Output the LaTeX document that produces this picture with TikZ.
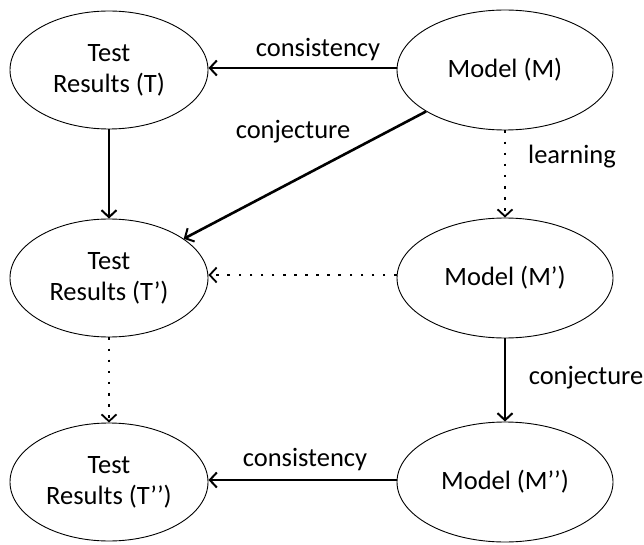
\documentclass[tikz,border=0pt]{standalone}
\usepackage{fontspec}
\setmainfont{Carlito}
\usetikzlibrary{shapes.geometric,arrows.meta}
\begin{document}
\begin{tikzpicture}[x=1pt,y=-1pt,
  every node/.style={font=\fontsize{26.5}{31}\selectfont},
  ell/.style={draw,ellipse,line width=0.9pt,inner sep=0pt,align=center},
  tnode/.style={ell,minimum width=198pt,minimum height=118pt},
  mnode/.style={ell,minimum width=216pt,minimum height=120pt},
  solidarr/.style={line width=2.6pt,-{Straight Barb[length=7pt,width=15pt,line width=2pt]}},
  dotarr/.style={line width=2.6pt,dash pattern=on 2.6pt off 8.5pt,-{Straight Barb[length=7pt,width=15pt,line width=1.8pt]}},
  lbl/.style={inner sep=1pt}
]
\useasboundingbox (0,0) rectangle (644,545);
\node[tnode] (T)  at (109,70)  {Test\\Results (T)};
\node[mnode] (M)  at (505,70)  {Model (M)};
\node[tnode] (T1) at (109,278) {Test\\Results (T’)};
\node[mnode] (M1) at (505,278) {Model (M’)};
\node[tnode] (T2) at (109,482) {Test\\Results (T’’)};
\node[mnode] (M2) at (505,482) {Model (M’’)};

\draw[solidarr] (M.west |- 0,68) -- (T.east |- 0,68);
\node[lbl] (l1) at (318,50) {consistency};
\draw[solidarr] (T) -- (T1);
\draw[solidarr] (M) -- (T1);
\node[lbl] (l2) at (293,132) {conjecture};
\draw[dotarr] (M) -- (M1);
\node[lbl] (l3) at (572,157) {learning};
\draw[dotarr] (M1.west |- 0,275) -- (T1.east |- 0,275);
\draw[solidarr] (M1) -- (M2);
\node[lbl] (l4) at (586,378) {conjecture};
\draw[dotarr] (T1) -- (T2);
\draw[solidarr] (M2.west |- 0,480) -- (T2.east |- 0,480);
\node[lbl] (l5) at (305,460) {consistency};
\end{tikzpicture}
\end{document}
